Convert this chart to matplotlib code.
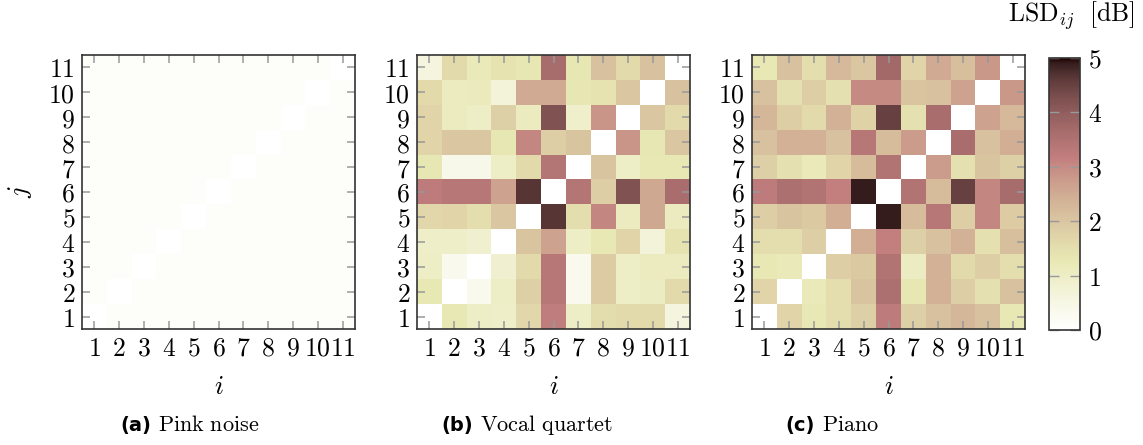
import matplotlib
matplotlib.use('Agg')
import matplotlib.pyplot as plt
import numpy as np

plt.rcParams['mathtext.fontset'] = 'cm'

idx = list(range(1, 12))
tick_labels = [f'${k}$' for k in idx]

# rows listed from j = 11 (top) down to j = 1 (bottom); columns i = 1..11
pink_noise = [
    [0.1, 0.1, 0.1, 0.1, 0.1, 0.1, 0.1, 0.1, 0.1, 0.1, 0.0],
    [0.1, 0.1, 0.1, 0.1, 0.1, 0.1, 0.1, 0.1, 0.1, 0.0, 0.1],
    [0.1, 0.1, 0.1, 0.1, 0.1, 0.1, 0.1, 0.1, 0.0, 0.1, 0.1],
    [0.1, 0.1, 0.1, 0.1, 0.1, 0.1, 0.1, 0.0, 0.1, 0.1, 0.1],
    [0.1, 0.1, 0.1, 0.1, 0.1, 0.1, 0.0, 0.1, 0.1, 0.1, 0.1],
    [0.1, 0.1, 0.1, 0.1, 0.1, 0.0, 0.1, 0.1, 0.1, 0.1, 0.1],
    [0.1, 0.1, 0.1, 0.1, 0.0, 0.1, 0.1, 0.1, 0.1, 0.1, 0.1],
    [0.1, 0.1, 0.1, 0.0, 0.1, 0.1, 0.1, 0.1, 0.1, 0.1, 0.1],
    [0.1, 0.1, 0.0, 0.1, 0.1, 0.1, 0.1, 0.1, 0.1, 0.1, 0.1],
    [0.1, 0.0, 0.1, 0.1, 0.1, 0.1, 0.1, 0.1, 0.1, 0.1, 0.1],
    [0.0, 0.1, 0.1, 0.1, 0.1, 0.1, 0.1, 0.1, 0.1, 0.1, 0.1],
]

vocal_quartet = [
    [0.6, 1.6, 1.2, 1.4, 1.3, 3.65, 1.3, 2.1, 1.6, 2.1, 0.0],
    [1.6, 1.1, 1.15, 0.7, 2.5, 2.5, 1.3, 1.4, 2.0, 0.0, 2.1],
    [1.7, 1.1, 1.0, 1.8, 1.1, 4.2, 0.9, 2.85, 0.0, 2.0, 1.6],
    [1.7, 2.0, 2.0, 1.3, 3.05, 1.85, 2.05, 0.0, 2.85, 1.3, 2.0],
    [1.3, 0.4, 0.4, 1.0, 1.6, 3.4, 0.0, 2.05, 1.0, 1.25, 1.25],
    [3.25, 3.35, 3.35, 2.65, 4.65, 0.0, 3.4, 1.85, 4.2, 2.55, 3.6],
    [1.65, 1.7, 1.5, 2.0, 0.0, 4.65, 1.5, 3.05, 1.1, 2.55, 1.1],
    [0.95, 0.95, 0.85, 0.0, 2.05, 2.65, 1.0, 1.25, 1.7, 0.7, 1.4],
    [1.0, 0.35, 0.0, 0.85, 1.6, 3.35, 0.35, 1.9, 1.0, 1.1, 1.1],
    [1.25, 0.0, 0.35, 1.0, 1.8, 3.35, 0.35, 1.9, 1.0, 1.05, 1.6],
    [0.0, 1.25, 1.0, 0.95, 1.65, 3.2, 1.0, 1.55, 1.6, 1.6, 0.6],
]

piano = [
    [1.25, 2.1, 1.5, 2.25, 2.0, 3.7, 1.7, 2.5, 2.15, 2.8, 0.0],
    [2.1, 1.45, 1.85, 1.45, 3.0, 3.0, 2.05, 2.1, 2.65, 0.0, 2.8],
    [2.3, 1.85, 1.6, 2.4, 1.75, 4.5, 1.45, 3.6, 0.0, 2.65, 2.25],
    [2.1, 2.4, 2.4, 2.1, 3.35, 2.2, 2.75, 0.0, 3.6, 2.1, 2.45],
    [1.8, 1.45, 1.2, 1.7, 2.2, 3.45, 0.0, 2.75, 1.45, 2.05, 1.8],
    [3.25, 3.55, 3.45, 3.15, 4.9, 0.0, 3.45, 2.2, 4.5, 3.05, 3.65],
    [1.85, 2.05, 1.95, 2.45, 0.0, 4.9, 2.2, 3.35, 1.85, 3.05, 1.9],
    [1.5, 1.5, 1.85, 0.0, 2.45, 3.15, 1.8, 2.1, 2.4, 1.45, 2.15],
    [1.25, 1.2, 0.0, 1.85, 1.95, 3.45, 1.05, 2.4, 1.6, 1.85, 1.5],
    [1.7, 0.0, 1.2, 1.5, 2.05, 3.55, 1.3, 2.4, 1.85, 1.45, 2.1],
    [0.0, 1.7, 1.25, 1.5, 1.8, 3.25, 1.8, 2.1, 2.3, 2.1, 1.25],
]

panels = [
    ('(a)', 'Pink noise', pink_noise),
    ('(b)', 'Vocal quartet', vocal_quartet),
    ('(c)', 'Piano', piano),
]
cbar_ticks = [0, 1, 2, 3, 4, 5]

W, H = 1143, 445
fig = plt.figure(figsize=(W / 100, H / 100), dpi=100)

def px_axes(x0, y0, x1, y1):
    return fig.add_axes([x0 / W, 1 - y1 / H, (x1 - x0) / W, (y1 - y0) / H])

ax_lefts = [82, 417, 752]
ax_w = 273
ax_top, ax_bot = 55, 329
caption_pos = [(151, 158), (473, 480), (815, 822)]

tick_col = '#999999'
spine_col = '#333333'
cmap = plt.get_cmap('pink_r')

im = None
for k, (lab, name, mat) in enumerate(panels):
    ax = px_axes(ax_lefts[k], ax_top, ax_lefts[k] + ax_w, ax_bot)
    im = ax.imshow(np.array(mat), cmap=cmap, vmin=0, vmax=5, origin='upper',
                   extent=(0.5, 11.5, 0.5, 11.5), aspect='auto',
                   interpolation='nearest')
    ax.set_xlim(0.5, 11.5)
    ax.set_ylim(0.5, 11.5)
    ax.set_xticks(idx)
    ax.set_yticks(idx)
    ax.set_xticklabels(tick_labels, fontsize=18.5)
    ax.set_yticklabels(tick_labels, fontsize=18.5)
    ax.tick_params(direction='in', length=6, width=1.1, color=tick_col,
                   top=True, right=True, pad=5)
    for s in ax.spines.values():
        s.set_color(spine_col)
        s.set_linewidth(1.2)
    ax.set_xlabel('$i$', fontsize=19, labelpad=9)
    if k == 0:
        ax.set_ylabel('$j$', fontsize=19, labelpad=10)
    xl, xr = caption_pos[k]
    fig.text(xl / W, 1 - 426 / H, lab, ha='right', va='center',
             fontsize=14, fontweight='bold', family='DejaVu Sans')
    fig.text(xr / W, 1 - 425 / H, r'$\mathrm{' + name.replace(' ', r'\ ') + '}$',
             ha='left', va='center', fontsize=16)

cax = px_axes(1049, 58, 1080, 330)
cb = fig.colorbar(im, cax=cax, ticks=cbar_ticks)
cb.ax.set_yticklabels([f'${t}$' for t in cbar_ticks], fontsize=18.5)
cb.ax.tick_params(direction='in', length=7, width=1.0, color=tick_col,
                  left=True, right=True, pad=6)
cb.outline.set_edgecolor(spine_col)
cb.outline.set_linewidth(1.2)
fig.text(1071 / W, 1 - 16 / H, r'$\mathrm{LSD}_{ij}\ \ \mathrm{[dB]}$',
         ha='center', va='center', fontsize=18.5)

fig.savefig('out.png', dpi=100)
